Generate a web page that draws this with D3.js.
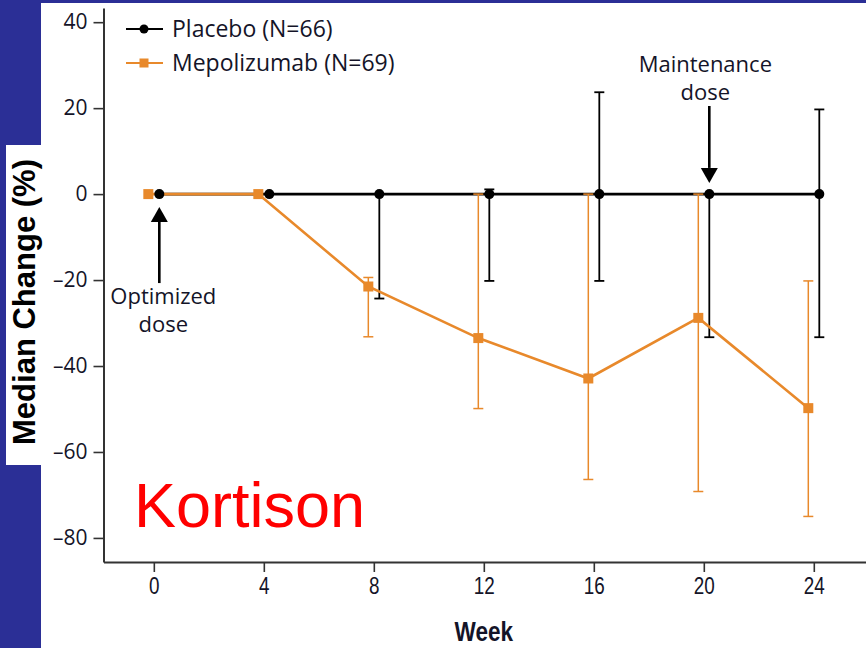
<!DOCTYPE html>
<html>
<head>
<meta charset="utf-8">
<script src="https://cdn.jsdelivr.net/npm/d3@7/dist/d3.min.js"></script>
<style>
  html, body { margin: 0; padding: 0; background: #fff; }
  svg { display: block; }
</style>
</head>
<body>
<svg id="chart" width="866" height="648"></svg>
<script>
// ---- data ----
const weeks = [0, 4, 8, 12, 16, 20, 24];
const placeboMedian = [0, 0, 0, 0, 0, 0, 0];
const placeboLow    = [null, null, -24.3, -20.2, -20.2, -33.3, -33.3];
const placeboHigh   = [null, null, 0, 1.1, 23.7, 0, 19.7];
const mepoMedian    = [0, 0, -21.5, -33.5, -42.9, -28.8, -49.8];
const mepoLow       = [null, null, -33.2, -49.9, -66.4, -69.2, -75.0];
const mepoHigh      = [null, null, -19.4, 0, 0, 0, -20.2];
const yTicks = [40, 20, 0, -20, -40, -60, -80];
const xTicks = [0, 4, 8, 12, 16, 20, 24];
const seriesNames = ["Placebo (N=66)", "Mepolizumab (N=69)"];
const arrowWeeks = [0, 20];
const arrowFrom = [-20.7, 20.5];
const arrowTo = [-3.0, 2.6];
const arrowLabels = [["Optimized", "dose"], ["Maintenance", "dose"]];

// ---- styles ----
const ORANGE = "#e8892b";
const BLACK = "#000";
const NAVY = "#2b2f96";
const TXT = "#141428";
const FONT = "'Open Sans', 'Noto Sans', sans-serif";
const ARIAL = "'Liberation Sans', Arial, sans-serif";

const svg = d3.select("#chart");
svg.append("rect").attr("width", 866).attr("height", 648).attr("fill", "#fff");
// presentation frame
svg.append("rect").attr("x", 0).attr("y", 0).attr("width", 41).attr("height", 648).attr("fill", NAVY);
svg.append("rect").attr("x", 0).attr("y", 0).attr("width", 866).attr("height", 3).attr("fill", NAVY);
svg.append("rect").attr("x", 6).attr("y", 145).attr("width", 40).attr("height", 320).attr("fill", "#fff");

// ---- scales ----
const x = d3.scaleLinear().domain([-1.83, 26]).range([103.5, 868.8]);
const y = d3.scaleLinear().domain([-85.6, 43.3]).range([562, 8]);
const dodge = 0.2;

// ---- axes ----
const fmt = d => d < 0 ? "\u2013" + Math.abs(d) : String(d);
const gy = svg.append("g").attr("transform", `translate(${x(-1.83)},0)`)
  .call(d3.axisLeft(y).tickValues(yTicks).tickSize(10).tickSizeOuter(0).tickPadding(6).tickFormat(fmt));
gy.select(".domain").attr("stroke", "#333").attr("stroke-width", 2);
gy.selectAll(".tick line").attr("stroke", "#333").attr("stroke-width", 1.6);
gy.selectAll(".tick text").attr("font-family", FONT).attr("font-size", 21).attr("fill", TXT);

const gx = svg.append("g").attr("transform", `translate(0,${y(-85.6)})`)
  .call(d3.axisBottom(x).tickValues(xTicks).tickSize(10).tickSizeOuter(0).tickPadding(6));
gx.select(".domain").attr("stroke", "#333").attr("stroke-width", 2);
gx.selectAll(".tick line").attr("stroke", "#333").attr("stroke-width", 1.6);
gx.selectAll(".tick text").attr("font-family", ARIAL).attr("font-size", 23).attr("fill", TXT)
  .attr("transform", "scale(0.82,1)");

// axis titles
svg.append("text").attr("transform", `translate(${x(12)},641) scale(0.82,1)`).attr("text-anchor", "middle")
  .attr("font-family", ARIAL).attr("font-weight", "bold").attr("font-size", 27.5).attr("fill", TXT).text("Week");
svg.append("text").attr("transform", "translate(35,302) rotate(-90)").attr("text-anchor", "middle")
  .attr("font-family", ARIAL).attr("font-weight", "bold").attr("font-size", 31)
  .attr("fill", "#000").text("Median Change (%)");

// ---- series ----
const placebo = weeks.map((w, i) => ({ w: w + dodge, v: placeboMedian[i], lo: placeboLow[i], hi: placeboHigh[i] }));
const mepo = weeks.map((w, i) => ({ w: w - dodge, v: mepoMedian[i], lo: mepoLow[i], hi: mepoHigh[i] }));
const line = d3.line().x(d => x(d.w)).y(d => y(d.v));

function errorBars(data, color, width) {
  const g = svg.append("g").attr("stroke", color).attr("stroke-width", width).attr("fill", "none");
  data.filter(d => d.lo !== null).forEach(d => {
    const cx = x(d.w);
    g.append("line").attr("x1", cx).attr("x2", cx).attr("y1", y(d.hi)).attr("y2", y(d.lo));
    g.append("line").attr("x1", cx - 5).attr("x2", cx + 5).attr("y1", y(d.hi)).attr("y2", y(d.hi));
    g.append("line").attr("x1", cx - 5).attr("x2", cx + 5).attr("y1", y(d.lo)).attr("y2", y(d.lo));
  });
}

// placebo line
svg.append("path").datum(placebo).attr("d", line).attr("fill", "none").attr("stroke", BLACK).attr("stroke-width", 2.6);
errorBars(placebo, BLACK, 1.8);
errorBars(mepo, ORANGE, 1.5);
svg.append("path").datum(mepo).attr("d", line).attr("fill", "none").attr("stroke", ORANGE).attr("stroke-width", 2.6);
svg.append("g").selectAll("rect").data(mepo).join("rect")
  .attr("x", d => x(d.w) - 5).attr("y", d => y(d.v) - 5).attr("width", 10).attr("height", 10).attr("fill", ORANGE);
svg.append("g").selectAll("circle").data(placebo).join("circle")
  .attr("cx", d => x(d.w)).attr("cy", d => y(d.v)).attr("r", 5).attr("fill", BLACK);

// ---- arrows & annotations ----
arrowWeeks.forEach((w, i) => {
  const ax = x(w + dodge);
  const y0 = y(arrowFrom[i]), y1 = y(arrowTo[i]);
  const dir = y1 < y0 ? -1 : 1; // -1 up
  const headLen = 15, headW = 8.5;
  const yb = y1 - dir * headLen;
  svg.append("line").attr("x1", ax).attr("x2", ax).attr("y1", y0).attr("y2", yb)
    .attr("stroke", "#000").attr("stroke-width", 2.6);
  svg.append("path").attr("d", `M${ax},${y1}L${ax - headW},${yb}L${ax + headW},${yb}Z`).attr("fill", "#000");
  const lines = arrowLabels[i];
  const t = svg.append("text").attr("text-anchor", "middle").attr("font-family", FONT).attr("font-size", 22).attr("fill", TXT);
  if (dir < 0) {
    lines.forEach((s, k) => t.append("tspan").attr("x", ax + 4).attr("y", y0 + 21 + k * 28).text(s));
  } else {
    lines.forEach((s, k) => t.append("tspan").attr("x", ax - 4).attr("y", y0 - 6 - (lines.length - 1 - k) * 28).text(s));
  }
});

// ---- legend ----
const legendRows = [
  { name: seriesNames[0], color: BLACK, shape: "circle", yy: 29 },
  { name: seriesNames[1], color: ORANGE, shape: "square", yy: 63 }
];
legendRows.forEach(r => {
  svg.append("line").attr("x1", 126).attr("x2", 163).attr("y1", r.yy).attr("y2", r.yy)
    .attr("stroke", r.color).attr("stroke-width", 2);
  if (r.shape === "circle") {
    svg.append("circle").attr("cx", 144).attr("cy", r.yy).attr("r", 4.5).attr("fill", r.color);
  } else {
    svg.append("rect").attr("x", 139.5).attr("y", r.yy - 4.5).attr("width", 9).attr("height", 9).attr("fill", r.color);
  }
  svg.append("text").attr("x", 172).attr("y", r.yy + 7.5).attr("font-family", FONT).attr("font-size", 23)
    .attr("fill", TXT).text(r.name);
});

// ---- overlay label ----
svg.append("text").attr("x", 134).attr("y", 527).attr("font-family", ARIAL)
  .attr("font-size", 63).attr("fill", "#ff0000").text("Kortison");
</script>
</body>
</html>
